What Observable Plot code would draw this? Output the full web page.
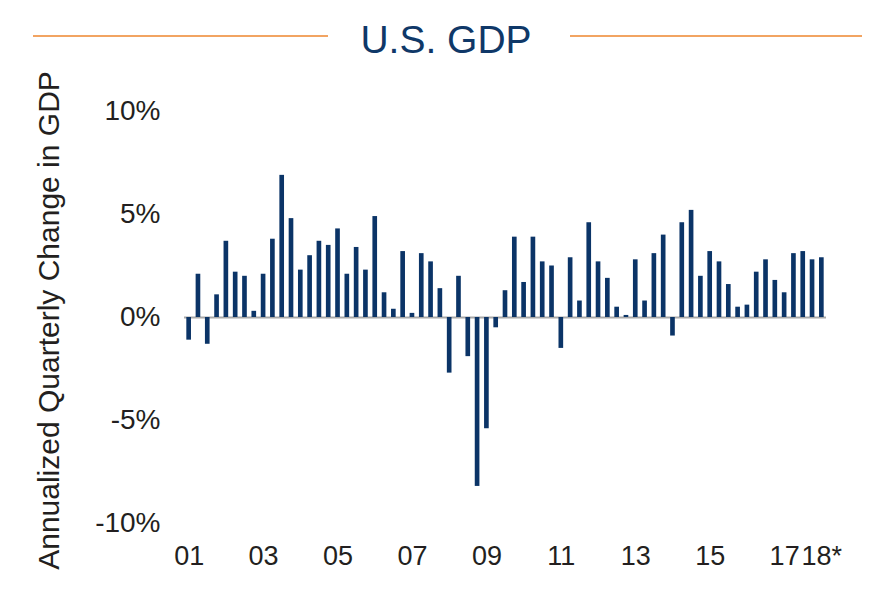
<!DOCTYPE html>
<html><head><meta charset="utf-8">
<script src="https://cdn.jsdelivr.net/npm/d3@7"></script>
<script src="https://cdn.jsdelivr.net/npm/@observablehq/plot@0.6"></script>
<style>
body{margin:0;background:#fff;font-family:"Liberation Sans",Arial,sans-serif;}
#wrap{width:880px;height:607px;position:relative;overflow:hidden;background:#fff}
#head{position:relative;height:72px}
.rule{position:absolute;top:35px;height:2px;background:#f2a462}
#title{position:absolute;left:0;width:892px;top:20px;text-align:center;font-size:39px;line-height:39px;color:#0f3868;white-space:nowrap}
</style></head>
<body>
<div id="wrap">
  <div id="head">
    <div class="rule" style="left:33px;width:295px"></div>
    <div class="rule" style="left:570px;width:292px"></div>
    <div id="title">U.S. GDP</div>
  </div>
  <div id="chart"></div>
</div>
<script>
const quarters = [
 "2001Q1","2001Q2","2001Q3","2001Q4","2002Q1","2002Q2","2002Q3","2002Q4",
 "2003Q1","2003Q2","2003Q3","2003Q4","2004Q1","2004Q2","2004Q3","2004Q4",
 "2005Q1","2005Q2","2005Q3","2005Q4","2006Q1","2006Q2","2006Q3","2006Q4",
 "2007Q1","2007Q2","2007Q3","2007Q4","2008Q1","2008Q2","2008Q3","2008Q4",
 "2009Q1","2009Q2","2009Q3","2009Q4","2010Q1","2010Q2","2010Q3","2010Q4",
 "2011Q1","2011Q2","2011Q3","2011Q4","2012Q1","2012Q2","2012Q3","2012Q4",
 "2013Q1","2013Q2","2013Q3","2013Q4","2014Q1","2014Q2","2014Q3","2014Q4",
 "2015Q1","2015Q2","2015Q3","2015Q4","2016Q1","2016Q2","2016Q3","2016Q4",
 "2017Q1","2017Q2","2017Q3","2017Q4","2018Q1"
];
const growth = [
 -1.1, 2.1, -1.3, 1.1,  3.7, 2.2, 2.0, 0.3,
  2.1, 3.8, 6.9, 4.8,  2.3, 3.0, 3.7, 3.5,
  4.3, 2.1, 3.4, 2.3,  4.9, 1.2, 0.4, 3.2,
  0.2, 3.1, 2.7, 1.4, -2.7, 2.0, -1.9, -8.2,
 -5.4, -0.5, 1.3, 3.9, 1.7, 3.9, 2.7, 2.5,
 -1.5, 2.9, 0.8, 4.6,  2.7, 1.9, 0.5, 0.1,
  2.8, 0.8, 3.1, 4.0, -0.9, 4.6, 5.2, 2.0,
  3.2, 2.7, 1.6, 0.5,  0.6, 2.2, 2.8, 1.8,
  1.2, 3.1, 3.2, 2.8,  2.9
];
const xTicks = ["2001Q1","2003Q1","2005Q1","2007Q1","2009Q1","2011Q1","2013Q1","2015Q1","2017Q1","2018Q1"];
const xTickLabels = ["01","03","05","07","09","11","13","15","17","18*"];
const yTicks = [-10, -5, 0, 5, 10];
const yTitle = "Annualized Quarterly Change in GDP";

const data = quarters.map((q, i) => ({q, v: growth[i]}));
const xLabel = new Map(xTicks.map((t, i) => [t, xTickLabels[i]]));

const chart = Plot.plot({
  width: 880, height: 535,
  marginLeft: 184, marginRight: 54, marginTop: 39, marginBottom: 84,
  style: {fontFamily: "'Liberation Sans', Arial, sans-serif", fontSize: "28px", color: "#231f20", background: "#fff", overflow: "visible"},
  x: {type: "band", domain: quarters, paddingInner: 0.5, paddingOuter: 0.25, round: false, axis: null},
  y: {domain: [-10, 10], axis: null},
  marks: [
    Plot.ruleY([0], {stroke: "#a8a8a8", strokeWidth: 2}),
    Plot.barY(data, {x: "q", y: "v", fill: "#0b3467"}),
    Plot.axisY(yTicks, {tickSize: 0, tickPadding: 24, tickFormat: d => d + "%", fontSize: 28, fill: "#231f20", label: null}),
    Plot.axisX(xTicks, {tickSize: 0, tickPadding: 22, tickFormat: d => xLabel.get(d), fontSize: 27, fill: "#231f20", label: null}),
    Plot.text([yTitle], {frameAnchor: "left", dx: -135, dy: 3, rotate: -90, fontSize: 30, textAnchor: "middle", fill: "#231f20"})
  ]
});
document.getElementById("chart").appendChild(chart);
</script>
</body></html>
